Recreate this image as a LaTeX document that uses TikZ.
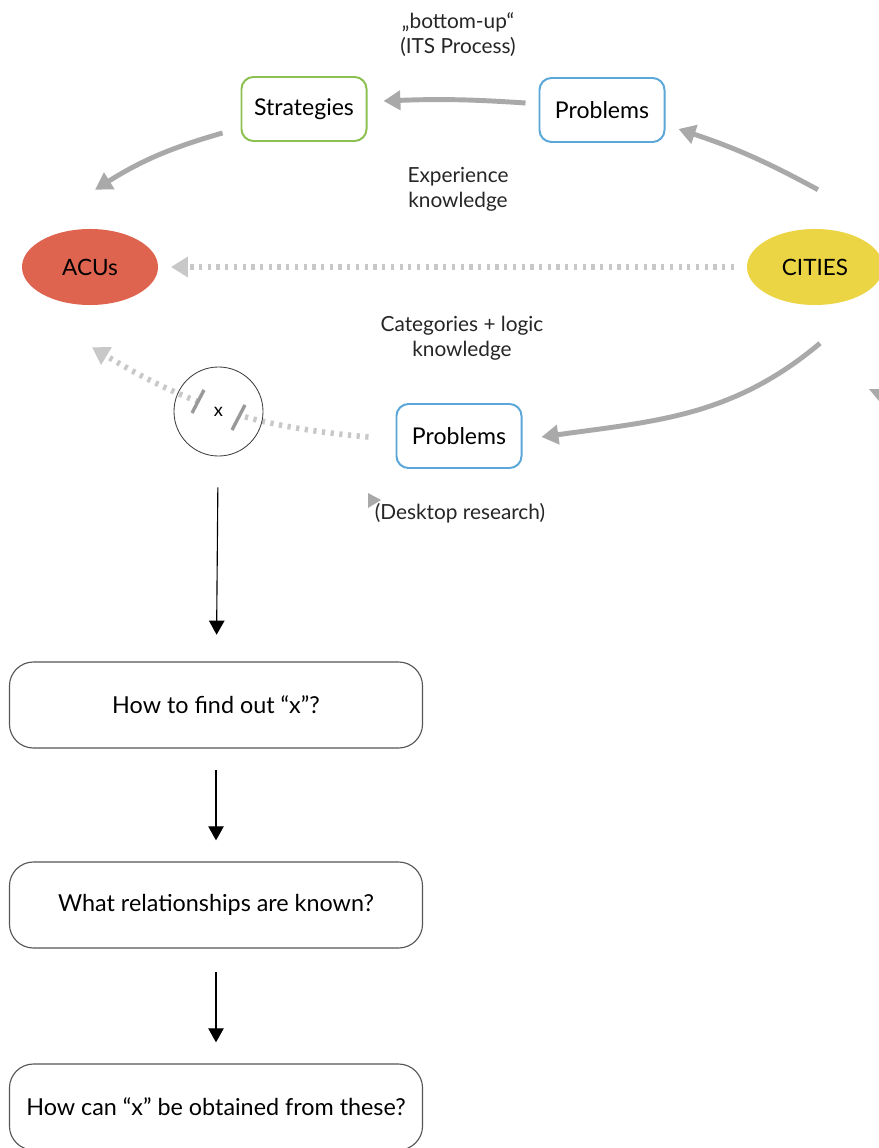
\documentclass[tikz,border=0pt]{standalone}
\usepackage{fontspec}
\setmainfont{Lato}
\usetikzlibrary{shapes.geometric,arrows.meta}
\definecolor{arrowgray}{HTML}{A9A9A9}
\definecolor{dotgray}{HTML}{C8C8C8}
\definecolor{acured}{HTML}{DF6450}
\definecolor{cityyellow}{HTML}{EBD544}
\definecolor{stratgreen}{HTML}{8CC152}
\definecolor{probblue}{HTML}{5AA7D8}
\definecolor{boxgray}{HTML}{555555}
\begin{document}
\begin{tikzpicture}[x=0.025cm, y=-0.025cm,
      box/.style ={rectangle, rounded corners=0.3cm, draw, line width=1.4pt,
                   fill=white, minimum width=3.125cm, minimum height=1.6cm,
                   font=\fontsize{16.4}{18}\selectfont},
      blob/.style ={ellipse, minimum width=3.4cm, minimum height=1.9cm,
                   inner sep=0pt, font=\fontsize{16}{18}\selectfont},
      question/.style ={rectangle, rounded corners=0.6cm, draw=boxgray, thick,
                   minimum width=10.325cm, minimum height=2.15cm,
                   font=\fontsize{16.6}{19}\selectfont},
      note/.style ={align=center, font=\fontsize{14.8}{17.7}\selectfont, text=black!85},
      grayarrow/.style ={draw=arrowgray, line width=3.5pt,
                   -{Triangle[length=12pt, width=13.5pt]}},
      dotarrow/.style ={draw=dotgray, line width=4pt, dash pattern=on 2.3pt off 3.9pt,
                   -{Triangle[length=12pt, width=14pt]}},
      downarrow/.style ={draw=black, thick, -{Triangle[length=10pt, width=11pt]}},
      cutmark/.style ={draw=black!40, line width=2.4pt}]

   \useasboundingbox[fill=white] (0,0) rectangle (879,1148);

   % upper cycle
   \node[box, draw=stratgreen] (strat)  at (304,109)  {Strategies};
   \node[box, draw=probblue]   (probup) at (602,110)  {Problems};
   \node[blob, fill=acured]     (acu)    at (90,267)   {ACUs};
   \node[blob, fill=cityyellow] (city)   at (815,267)  {CITIES};
   \node[box, draw=probblue]   (problow) at (459,436) {Problems};

   \node[note] (bottomup) at (458,35) {„bottom-up“\\(ITS Process)};
   \node[note] (exper)    at (458,189) {Experience\\knowledge};
   \node[note] (categ)    at (462,338) {Categories + logic\\knowledge};
   \node[note] (desk)     at (460,513) {(Desktop research)};

   \draw[grayarrow] ([shift={(-13,-7)}]probup.west) to [bend right = 3] ([shift={(16,-8)}]strat.east);
   \draw[grayarrow] ([shift={(-18,-9)}]strat.south west) to [bend right = 8] ([shift={(5,-39)}]acu.north);
   \draw[grayarrow] ([shift={(3,-39)}]city.north) to [bend right = 5] ([shift={(13,-14)}]probup.south east);
   \draw[dotarrow, shorten <=9pt, shorten >=9pt] (city) to (acu);
   \draw[grayarrow] ([shift={(5,38)}]city.south) to [out=-140, in=8] ([shift={(19,1)}]problow.east);
   \draw[dotarrow] ([shift={(-27,1)}]problow.west) to [out=175, in=-31] ([shift={(2,42)}]acu.south);

   % break in the line
   \fill[white] (192,413) -- (204,390) -- (245,405) -- (232,430) -- cycle;
   \draw[cutmark] (192,413) -- (204,390);
   \draw[cutmark] (232,430) -- (245,405);
   \node[circle, draw=black!75, semithick, minimum size=2.225cm,
         font=\fontsize{13}{15}\selectfont] (xc) at (218.5,411.5) {x};

   % stray arrow tips
   \fill[arrowgray] (368,493) -- (381,500) -- (368,508) -- cycle;
   \fill[arrowgray] (869,389) -- (879,389) -- (879,401) -- cycle;

   % questions
   \node[question] (qa) at (216,705)  {How to find out “x”?};
   \node[question] (qb) at (216,905)  {What relationships are known?};
   \node[question] (qc) at (216,1107) {How can “x” be obtained from these?};

   \draw[downarrow, shorten <=22pt, shorten >=19pt] (xc) to (qa);
   \draw[downarrow, shorten <=15pt, shorten >=15pt] (qa) to (qb);
   \draw[downarrow, shorten <=17pt, shorten >=15pt] (qb) to (qc);

 \end{tikzpicture}
\end{document}
